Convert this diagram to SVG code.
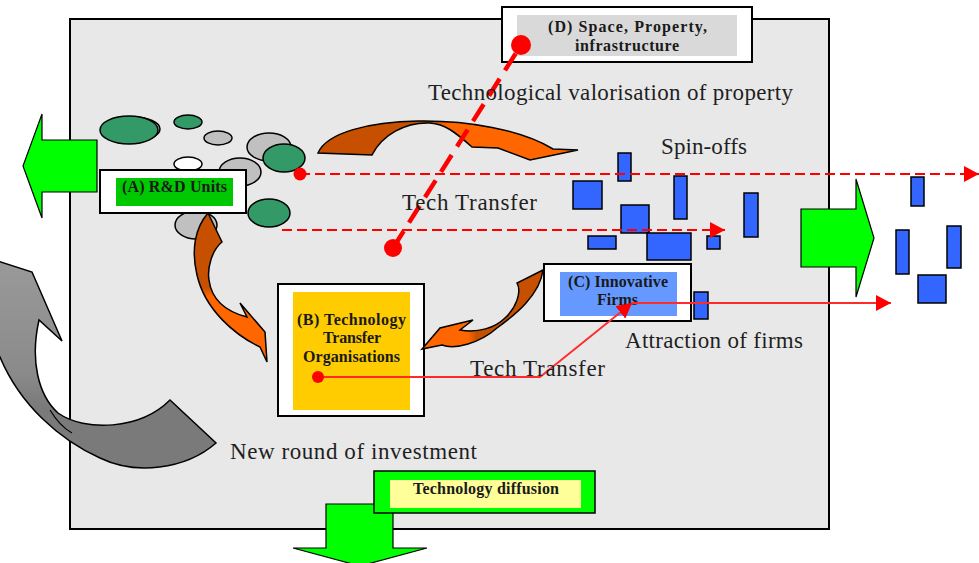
<svg xmlns="http://www.w3.org/2000/svg" width="979" height="563" viewBox="0 0 979 563">
<style>
.frame{fill:#E8E8E8;stroke:#000;stroke-width:2}
.box{fill:#fff;stroke:#000;stroke-width:2}
.eg{fill:#339966;stroke:#000;stroke-width:1.5}
.es{fill:#C0C0C0;stroke:#000;stroke-width:1.5}
.ew{fill:#fff;stroke:#000;stroke-width:1.5}
.blue{fill:#3366FF;stroke:#000;stroke-width:1.5}
.garrow{fill:#00FF00;stroke:#000;stroke-width:1.2}
.lbl{font-family:"Liberation Serif",serif;font-size:23px;fill:#1f1f1f}
.bt{font-family:"Liberation Serif",serif;font-weight:bold;font-size:16px;fill:#1a1a1a}
.dash{stroke:#FF0000;stroke-width:2;stroke-dasharray:10,5;fill:none}
.thick{stroke:#FF0000;stroke-width:4.5;stroke-dasharray:20,10;fill:none}
.solid{stroke:#FF2A2A;stroke-width:1.8;fill:none}
.dot{fill:#FF0000}
</style>
<defs>
<marker id="ah" markerUnits="userSpaceOnUse" viewBox="0 0 15 16" refX="15" refY="8" markerWidth="15" markerHeight="16" orient="auto">
<path d="M0,0 L15,8 L0,16 Z" fill="#FF0000"/>
</marker>
<linearGradient id="gTop" gradientUnits="userSpaceOnUse" x1="318" y1="0" x2="578" y2="0">
<stop offset="0" stop-color="#C65000"/><stop offset="0.44" stop-color="#C65000"/><stop offset="0.5" stop-color="#FF6600"/><stop offset="1" stop-color="#FF6600"/>
</linearGradient>
<linearGradient id="gAB" gradientUnits="userSpaceOnUse" x1="0" y1="213" x2="0" y2="362">
<stop offset="0" stop-color="#C65000"/><stop offset="0.5" stop-color="#C65000"/><stop offset="0.56" stop-color="#FF6600"/><stop offset="1" stop-color="#FF6600"/>
</linearGradient>
<linearGradient id="gCB" gradientUnits="userSpaceOnUse" x1="543" y1="0" x2="422" y2="0">
<stop offset="0" stop-color="#C65000"/><stop offset="0.55" stop-color="#C65000"/><stop offset="0.62" stop-color="#FF6600"/><stop offset="1" stop-color="#FF6600"/>
</linearGradient>
<linearGradient id="gGray" gradientUnits="userSpaceOnUse" x1="0" y1="258" x2="0" y2="470">
<stop offset="0" stop-color="#9A9A9A"/><stop offset="0.55" stop-color="#8A8A8A"/><stop offset="0.7" stop-color="#7A7A7A"/><stop offset="1" stop-color="#7A7A7A"/>
</linearGradient>
</defs>

<rect class="frame" x="70" y="19" width="759" height="510"/>

<g id="gray-arrow">
<path d="M-12,258 L32,272 L62,341 L39,320 C30,360 38,395 58,413 C85,432 140,430 170,400 L216,443 C185,470 135,475 100,458 C60,440 20,405 0,357 L-15,330 Z" fill="url(#gGray)" stroke="#000" stroke-width="1.5"/>
<path d="M50,410 C56,420 63,428 72,433" fill="none" stroke="#000" stroke-width="1.2"/>
</g>

<g id="rd-cluster">
<ellipse class="es" cx="133" cy="129" rx="27" ry="12"/>
<ellipse class="eg" cx="129" cy="130" rx="29" ry="14"/>
<ellipse class="eg" cx="188" cy="122" rx="14" ry="7"/>
<ellipse class="es" cx="218" cy="138" rx="14" ry="7"/>
<ellipse class="es" cx="269" cy="147" rx="22" ry="14"/>
<ellipse class="eg" cx="284" cy="158" rx="21" ry="14"/>
<ellipse class="ew" cx="188" cy="164" rx="14" ry="7"/>
<ellipse class="es" cx="240" cy="172" rx="21" ry="14"/>
<ellipse class="eg" cx="269" cy="213" rx="21" ry="14"/>
<ellipse class="es" cx="196" cy="225" rx="21" ry="14"/>
</g>

<g id="node-a">
<rect class="box" x="100" y="170" width="146" height="43"/>
<rect x="116" y="178" width="117" height="28" fill="#00C800"/>
<text class="bt" x="122" y="192" textLength="105">(A) R&amp;D Units</text>
</g>

<g id="left-arrow">
<path class="garrow" d="M97,140 L42,140 L42,114 L23,166 L42,218 L42,192 L97,192 Z"/>
</g>

<g id="node-d">
<rect class="box" x="502" y="7" width="250" height="55"/>
<rect x="517" y="15" width="220" height="41" fill="#D9D9D9"/>
<text class="bt" x="548" y="32" textLength="159">(D) Space, Property,</text>
<text class="bt" x="575" y="51" textLength="104">infrastructure</text>
</g>

<g id="spinoff-firms">
<rect class="blue" x="618" y="153" width="13" height="28"/>
<rect class="blue" x="573" y="181" width="29" height="28"/>
<rect class="blue" x="674" y="176" width="13" height="43"/>
<rect class="blue" x="621" y="205" width="28" height="28"/>
<rect class="blue" x="588" y="236" width="28" height="13"/>
<rect class="blue" x="647" y="233" width="44" height="27"/>
<rect class="blue" x="707" y="236" width="13" height="13"/>
<rect class="blue" x="744" y="193" width="14" height="44"/>
<rect class="blue" x="694" y="292" width="14" height="27"/>
<rect class="blue" x="911" y="177" width="13" height="29"/>
<rect class="blue" x="896" y="230" width="13" height="44"/>
<rect class="blue" x="947" y="226" width="14" height="42"/>
<rect class="blue" x="918" y="275" width="28" height="28"/>
</g>

<g id="right-arrow">
<path class="garrow" d="M801,209 L856,209 L856,179 L874,238 L856,297 L856,267 L801,267 Z"/>
</g>

<g id="node-b">
<rect class="box" x="278" y="284" width="146" height="132"/>
<rect x="293" y="292" width="117" height="118" fill="#FFCC00"/>
<text class="bt" x="297" y="325" textLength="109">(B) Technology</text>
<text class="bt" x="323" y="343" textLength="58">Transfer</text>
<text class="bt" x="303" y="362" textLength="97">Organisations</text>
</g>

<g id="node-c">
<rect class="box" x="544" y="264" width="147" height="57"/>
<rect x="560" y="272" width="117" height="44" fill="#6699FF"/>
<text class="bt" x="568" y="287" textLength="100">(C) Innovative</text>
<text class="bt" x="597" y="305" textLength="41">Firms</text>
</g>

<g id="bottom-arrow">
<path class="garrow" d="M326,504 L393,504 L393,548 L427,548 L360,566 L293,548 L326,548 Z"/>
</g>

<g id="node-diffusion">
<rect x="374" y="471" width="221" height="42" fill="#00FF00" stroke="#000" stroke-width="1.5"/>
<rect x="390" y="480" width="191" height="28" fill="#FFFF99"/>
<text class="bt" x="413" y="494" textLength="146">Technology diffusion</text>
</g>

<g id="connectors">
<path d="M318,153 C335,112 490,110 553,149 L578,150 L530,160 L498,148 L472,147 C455,132 445,124 430,123 C405,122 382,135 372,155 Z" fill="url(#gTop)" stroke="#000" stroke-width="1.5"/>
<path d="M208,213 L222,242 C212,250 207,268 209,280 C211,295 220,310 247,317 L240,303 L265,332 L267,362 L260,347 C235,335 205,310 197,275 C191,250 195,228 208,213 Z" fill="url(#gAB)" stroke="#000" stroke-width="1.5"/>
<path d="M543,270 L517,283 C522,292 516,308 505,318 C495,328 478,333 460,330 L473,320 L440,328 L422,349 L442,345 C455,350 480,343 497,328 C515,315 540,295 543,270 Z" fill="url(#gCB)" stroke="#000" stroke-width="1.5"/>

<line class="dash" x1="300" y1="174" x2="979" y2="174" marker-end="url(#ah)"/>
<line class="dash" x1="282" y1="230" x2="725" y2="230" marker-end="url(#ah)"/>
<circle class="dot" cx="300" cy="174" r="6.5"/>

<line class="thick" x1="393" y1="248" x2="521" y2="45"/>
<circle class="dot" cx="393" cy="248" r="9"/>
<circle class="dot" cx="521" cy="45" r="10"/>

<polyline class="solid" points="318,377 540,377 632,303" marker-end="url(#ah)"/>
<line class="solid" x1="632" y1="303" x2="891" y2="303" marker-end="url(#ah)"/>
<circle class="dot" cx="318" cy="377" r="6"/>
</g>

<g id="labels">
<text class="lbl" x="428" y="100" textLength="365">Technological valorisation of property</text>
<text class="lbl" x="661" y="154" textLength="86">Spin-offs</text>
<text class="lbl" x="402" y="210" textLength="135">Tech Transfer</text>
<text class="lbl" x="470" y="376" textLength="135">Tech Transfer</text>
<text class="lbl" x="625" y="348" textLength="178">Attraction of firms</text>
<text class="lbl" x="230" y="459" textLength="247">New round of investment</text>
</g>
</svg>
